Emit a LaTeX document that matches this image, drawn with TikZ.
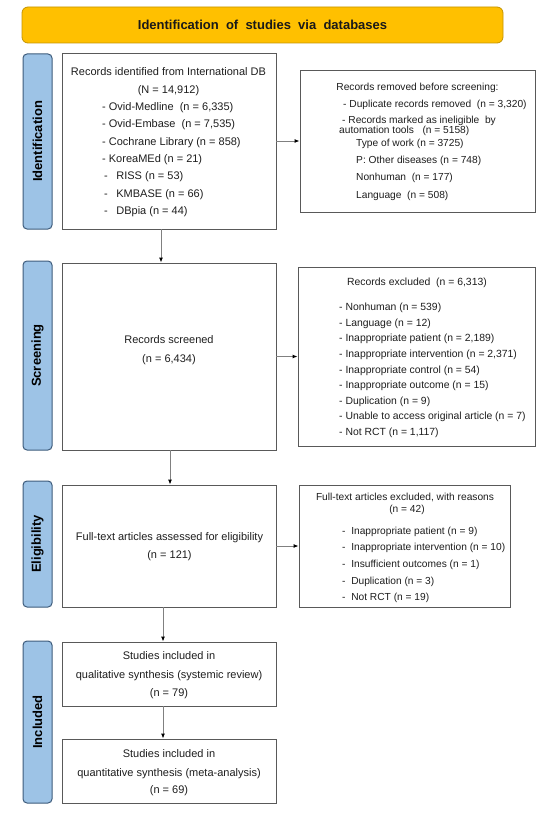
\documentclass[tikz,border=0pt]{standalone}
\usepackage{fontspec}
\setmainfont{Liberation Sans}
\usetikzlibrary{arrows.meta}
\definecolor{bannerfill}{HTML}{FFC000}
\definecolor{bannerdraw}{HTML}{C49400}
\definecolor{sidefill}{HTML}{9DC3E6}
\definecolor{sidedraw}{HTML}{3E5C7C}
\definecolor{boxdraw}{HTML}{595959}
\definecolor{txtc}{HTML}{1E1E1E}
\definecolor{arrc}{HTML}{808080}
\tikzset{
  box/.style={draw=boxdraw, line width=0.9pt, fill=white, inner sep=0pt},
  side/.style={draw=sidedraw, fill=sidefill, line width=1pt, rounded corners=4pt, inner sep=0pt},
  banner/.style={draw=bannerdraw, fill=bannerfill, line width=0.8pt, rounded corners=6pt, inner sep=0pt},
  sidetxt/.style={inner sep=0pt, rotate=90, font=\fontsize{13}{15}\selectfont\bfseries, text=black},
  tA/.style={inner sep=0pt, text=txtc, font=\fontsize{11}{13}\selectfont},
  tB/.style={inner sep=0pt, text=txtc, font=\fontsize{10.2}{12}\selectfont},
  tC/.style={inner sep=0pt, text=txtc, font=\fontsize{10.4}{12}\selectfont},
  arr/.style={draw=arrc, line width=0.9pt, -{Latex[length=5pt,width=4pt,color=black]}}
}
\begin{document}
\begin{tikzpicture}[x=1pt,y=-1pt]
\useasboundingbox (0,0) rectangle (556,813);
\fill[white] (0,0) rectangle (556,813);

% banner
\node[banner, minimum width=481pt, minimum height=36pt] (ban) at (262.5,25) {};
\node[inner sep=0pt, font=\fontsize{13}{15}\selectfont\bfseries, text=black!90] (bant) at (ban.center) {Identification\ \ of\ \ studies\ \ via\ \ databases};

% side labels
\node[side, minimum width=29pt, minimum height=175pt] (s1) at (37.5,141.5) {};
\node[sidetxt] (s1t) at (s1.center) {Identification};
\node[side, minimum width=29pt, minimum height=189pt] (s2) at (37.5,355.5) {};
\node[sidetxt] (s2t) at (s2.center) {Screening};
\node[side, minimum width=29pt, minimum height=126pt] (s3) at (37.5,544) {};
\node[sidetxt] (s3t) at (s3.center) {Eligibility};
\node[side, minimum width=29pt, minimum height=162pt] (s4) at (37.5,722) {};
\node[sidetxt] (s4t) at (s4.center) {Included};

% main boxes
\node[box, minimum width=214pt, minimum height=176pt] (b1) at (169,141) {};
\node[box, minimum width=214pt, minimum height=187pt] (b2) at (169,356.5) {};
\node[box, minimum width=214pt, minimum height=122pt] (b3) at (169,546) {};
\node[box, minimum width=214pt, minimum height=64pt] (b4) at (169,674) {};
\node[box, minimum width=214pt, minimum height=64pt] (b5) at (169,771) {};

% right boxes
\node[box, minimum width=235pt, minimum height=142pt] (r1) at (417.5,141) {};
\node[box, minimum width=237pt, minimum height=179pt] (r2) at (416.5,356.5) {};
\node[box, minimum width=211pt, minimum height=122pt] (r3) at (404.5,546) {};

% connectors
\draw[arr] ([xshift=-8pt]b1.south) -- ([xshift=-8pt]b2.north);
\draw[arr] ([xshift=1pt]b2.south) -- ([xshift=1pt]b3.north);
\draw[arr] ([xshift=-6pt]b3.south) -- ([xshift=-6pt]b4.north);
\draw[arr] ([xshift=-6pt]b4.south) -- ([xshift=-6pt]b5.north);
\draw[arr] (b1.east) -- (r1.west);
\draw[arr] (b2.east) -- (r2.west);
\draw[arr] (b3.east) -- (r3.west);

% box 1 text
\node[tA, anchor=base] (b1h1) at (168.5,76) {Records identified from International DB};
\node[tA, anchor=base] (b1h2) at (168.5,93.3) {(N = 14,912)};
\foreach \s [count=\i] in {{- Ovid-Medline\ \ (n = 6,335)},{- Ovid-Embase\ \ (n = 7,535)},{- Cochrane Library (n = 858)},{- KoreaMEd (n = 21)}}
  \node[tA, anchor=base west] (b1l\i) at (102,{110.6+17.3*(\i-1)}) {\s};
\foreach \s [count=\i] in {{RISS (n = 53)},{KMBASE (n = 66)},{DBpia (n = 44)}}
  \node[tA, anchor=base west] (b1m\i) at (104,{179.8+17.3*(\i-1)}) {-\hspace{8.5pt}\s};

% removed box text
\node[tB, anchor=base] (r1h) at (417.5,90.7) {Records removed before screening:};
\node[tB, anchor=base west] (r1a) at (343,107.3) {- Duplicate records removed\ \ (n = 3,320)};
\node[tB, anchor=base west] (r1b) at (342,124) {- Records marked as ineligible\ \ by};
\node[tB, anchor=base west] (r1c) at (339,134) {automation tools\ \ \ (n = 5158)};
\foreach \s [count=\i] in {{Type of work (n = 3725)},{P: Other diseases (n = 748)},{Nonhuman\ \ (n = 177)},{Language\ \ (n = 508)}}
  \node[tB, anchor=base west] (r1l\i) at (356,{146.7+17.1*(\i-1)}) {\s};

% screening
\node[tA, anchor=base] (b2a) at (169,343) {Records screened};
\node[tA, anchor=base] (b2b) at (169,362) {(n = 6,434)};

% excluded box text
\node[tC, anchor=base] (r2h) at (417,285) {Records excluded\ \ (n = 6,313)};
\foreach \s [count=\i] in {{- Nonhuman (n = 539)},{- Language (n = 12)},{- Inappropriate patient (n = 2,189)},{- Inappropriate intervention (n = 2,371)},{- Inappropriate control (n = 54)},{- Inappropriate outcome (n = 15)},{- Duplication (n = 9)},{- Unable to access original article (n = 7)},{- Not RCT (n = 1,117)}}
  \node[tC, anchor=base west] (r2l\i) at (339,{310.7+15.6*(\i-1)}) {\s};

% eligibility
\node[tA, anchor=base] (b3a) at (169.5,540) {Full-text articles assessed for eligibility};
\node[tA, anchor=base] (b3b) at (169.5,558) {(n = 121)};

% full-text excluded
\node[tB, anchor=base] (r3h1) at (405,500) {Full-text articles excluded, with reasons};
\node[tB, anchor=base] (r3h2) at (407,512) {(n = 42)};
\foreach \s [count=\i] in {{Inappropriate patient (n = 9)},{Inappropriate intervention (n = 10)},{Insufficient outcomes (n = 1)},{Duplication (n = 3)},{Not RCT (n = 19)}}
  \node[tB, anchor=base west] (r3l\i) at (342,{534+16.7*(\i-1)}) {-\ \ \s};

% included
\node[tA, anchor=base] (b4a) at (169,659) {Studies included in};
\node[tA, anchor=base] (b4b) at (169,678) {qualitative synthesis (systemic review)};
\node[tA, anchor=base] (b4c) at (169,696) {(n = 79)};
\node[tA, anchor=base] (b5a) at (169,757) {Studies included in};
\node[tA, anchor=base] (b5b) at (169,776) {quantitative synthesis (meta-analysis)};
\node[tA, anchor=base] (b5c) at (169,793) {(n = 69)};
\end{tikzpicture}
\end{document}
